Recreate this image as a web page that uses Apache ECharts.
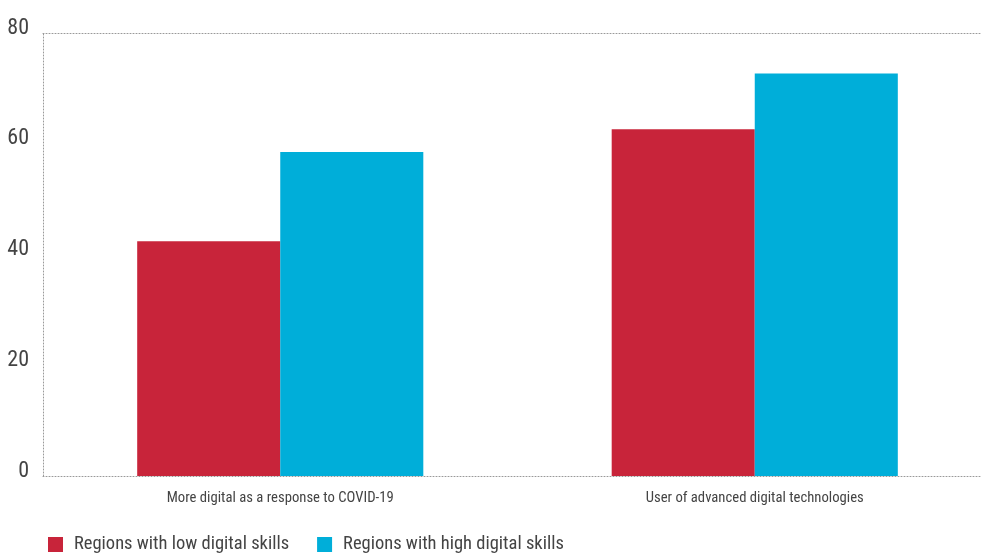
<!DOCTYPE html>
<html>
<head>
<meta charset="utf-8">
<script src="https://cdn.jsdelivr.net/npm/echarts@6/dist/echarts.min.js"></script>
<style>html,body{margin:0;padding:0;background:#fff;overflow:hidden;width:981px;height:554px;}#c{width:992px;height:554px;}</style>
</head>
<body>
<div id="c"></div>
<script>
const categories = ["More digital as a response to COVID-19", "User of advanced digital technologies"];
const lowSkills = [42.4, 62.6];
const highSkills = [58.5, 72.7];
const seriesNames = ["Regions with low digital skills", "Regions with high digital skills"];
const yTicks = [0, 20, 40, 60, 80];

const FONT = '"Liberation Sans Narrow", "Roboto Condensed", "DejaVu Sans Condensed", sans-serif';
const DOT = {color: '#999', type: [1, 2], width: 1};
const chart = echarts.init(document.getElementById('c'), null, {renderer: 'canvas'});
chart.setOption({
  animation: false,
  backgroundColor: '#fff',
  grid: {left: 43, right: 0, top: 33, bottom: 78, containLabel: false},
  legend: {
    left: 43, top: 530,
    itemWidth: 15, itemHeight: 15, itemGap: 28,
    icon: 'rect',
    data: seriesNames,
    textStyle: {fontFamily: FONT, fontSize: 18.5, color: '#444', padding: [0, 0, 0, 6]}
  },
  xAxis: [{
    type: 'category',
    data: categories,
    axisLine: {show: true, lineStyle: DOT},
    axisTick: {show: false},
    axisLabel: {fontFamily: FONT, fontSize: 14.7, color: '#444', margin: 15}
  }, {
    type: 'category',
    position: 'top',
    data: categories,
    axisLine: {show: true, lineStyle: DOT},
    axisTick: {show: false},
    axisLabel: {show: false}
  }],
  yAxis: {
    type: 'value',
    min: 0, max: 80, interval: 20,
    axisLine: {show: true, lineStyle: DOT},
    axisTick: {show: false},
    splitLine: {show: false},
    axisLabel: {fontFamily: FONT, fontSize: 22, color: '#444', margin: 14, verticalAlign: 'bottom', lineHeight: 10,
      formatter: v => yTicks.includes(v) ? String(v) : ''}
  },
  series: [{
    name: seriesNames[0], type: 'bar', data: lowSkills,
    barGap: '0%', barCategoryGap: '39.7%',
    itemStyle: {color: '#C8243A'}
  }, {
    name: seriesNames[1], type: 'bar', data: highSkills,
    barGap: '0%', barCategoryGap: '39.7%',
    itemStyle: {color: '#00AED9'}
  }]
});
</script>
</body>
</html>
